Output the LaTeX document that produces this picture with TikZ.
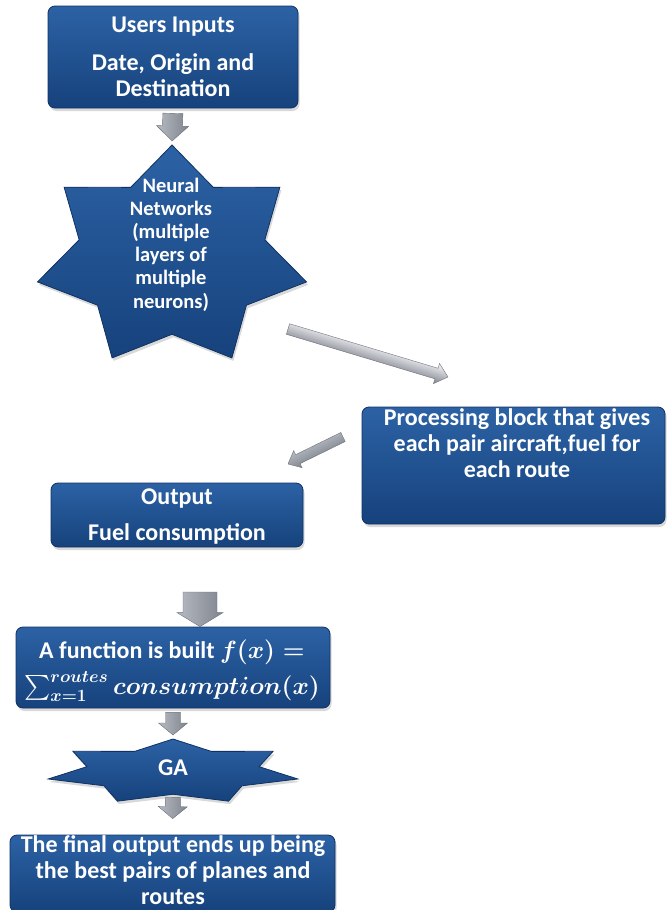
\documentclass[tikz,border=0pt]{standalone}
\usepackage{amsmath}
\usepackage{fontspec}
\setmainfont{Carlito}
\usetikzlibrary{calc,shadows}

\definecolor{boxhi}{RGB}{44,98,165}
\definecolor{boxlo}{RGB}{22,66,124}
\definecolor{boxedge}{RGB}{16,50,98}
\definecolor{arrlight}{RGB}{246,247,250}
\definecolor{arrmid}{RGB}{182,186,194}
\definecolor{arrdark}{RGB}{128,132,142}

\tikzset{
  bluebox/.style={rounded corners=7pt, top color=boxhi, bottom color=boxlo,
    draw=boxedge, line width=0.8pt, inner sep=0pt,
    drop shadow={shadow xshift=1.5pt, shadow yshift=-3pt, opacity=0.3}},
  bluestar/.style={top color=boxhi, bottom color=boxlo, draw=boxedge,
    line width=0.8pt, line join=miter,
    drop shadow={shadow xshift=1.5pt, shadow yshift=-3pt, opacity=0.3}},
  boxtext/.style={text=white, font=\bfseries\fontsize{24}{26}\selectfont,
    align=center, inner sep=0pt},
  startext/.style={text=white, font=\bfseries\fontsize{20.5}{23.2}\selectfont,
    align=center, inner sep=0pt},
  greyarrow/.style={top color=arrdark, middle color=arrlight, bottom color=arrmid,
    draw=arrdark!85!black, line width=0.4pt, line join=miter},
  greyarrowflip/.style={top color=arrlight, middle color=arrmid, bottom color=arrdark,
    draw=arrdark!85!black, line width=0.4pt, line join=miter},
}

% block arrow from #2 to #3: shaft width #4, head width #5, head length #6, style #1;
% drawn in a rotated canvas so that the shading runs across the shaft
\newcommand\blockarrow[6][greyarrow]{%
  \path let \p1=#2, \p2=#3 in \pgfextra{%
    \pgfmathsetmacro\baang{atan2(\y2-\y1,\x2-\x1)}%
    \pgfmathsetmacro\balen{veclen(\x2-\x1,\y2-\y1)}%
    \pgfmathsetmacro\bax{\x1}%
    \pgfmathsetmacro\bay{\y1}%
    \global\let\baang\baang \global\let\balen\balen
    \global\let\bax\bax \global\let\bay\bay};
  \begin{scope}[transform canvas={shift={(\bax pt,\bay pt)}, rotate=\baang}, x=1pt, y=1pt]
    \path[#1] (0,{-#4/2}) -- ({\balen-#6},{-#4/2}) -- ({\balen-#6},{-#5/2})
      -- (\balen,0) -- ({\balen-#6},{#5/2}) -- ({\balen-#6},{#4/2})
      -- (0,{#4/2}) -- cycle;
  \end{scope}}

% seven-pointed star, centre (#2,#3), radii #4 (x) and #5 (y), inner ratio #6
\newcommand\sevenstar[6][bluestar]{%
  \path[#1] plot[samples at={0,...,13}]
    ({#2+(1-(1-#6)*mod(\x,2))*#4*cos(90+\x*360/14)},
     {#3-(1-(1-#6)*mod(\x,2))*#5*sin(90+\x*360/14)}) -- cycle;}

\begin{document}
\begin{tikzpicture}[x=1pt, y=-1pt]
\useasboundingbox (0,0) rectangle (667,910);

% boxes
\node[bluebox, minimum width=250pt, minimum height=102pt] (inputs) at (173,57) {};
\node[boxtext, anchor=north] (inputs-text) at (173,16.5)
  {Users Inputs\\[12pt]Date, Origin and\\Destination};

% neural network star
\sevenstar{172}{257}{138}{112}{0.69}
\coordinate (nn-top) at (172,145);
\node[startext, anchor=north] (nn-text) at (171,177.5)
  {Neural\\Networks\\(multiple\\layers of\\multiple\\neurons)};

\node[bluebox, minimum width=303pt, minimum height=117pt] (proc) at (513.5,465.5) {};
\node[boxtext, anchor=north] (proc-text) at (517,408)
  {Processing block that gives\\each pair aircraft,fuel for\\each route};

\node[bluebox, minimum width=252pt, minimum height=64pt] (output) at (177,515) {};
\node[boxtext, anchor=north] (output-text) at (177,488.5)
  {Output\\[10pt]Fuel consumption};

\node[bluebox, minimum width=314pt, minimum height=81pt] (func) at (173,667.5) {};
\node[boxtext, anchor=north] (func-text) at (172,640)
  {A function is built {\boldmath$f(x)=$}\\[5pt]
   {\boldmath$\sum_{x=1}^{routes}consumption(x)$}};

% genetic algorithm star
\sevenstar{173}{771.7}{128}{32.7}{0.69}
\coordinate (ga-top) at (173,739);
\coordinate (ga-notch) at (173,794.3);
\node[boxtext, anchor=base] (ga-text) at (173,775) {GA};

\node[bluebox, minimum width=325pt, minimum height=77pt] (final) at (172.5,873.5) {};
\node[boxtext, anchor=north] (final-text) at (173,835.2)
  {The final output ends up being\\the best pairs of planes and\\routes};

% connectors
\coordinate (nn-out) at (288,329);
\coordinate (proc-in) at (448,377);
\coordinate (proc-out) at (343,437);
\coordinate (output-in) at (288,464);
\coordinate (output-down) at (200,592);

\blockarrow{($(inputs.south)!5pt!(nn-top)$)}{($(nn-top)!4pt!(inputs.south)$)}{20}{32}{15}
\blockarrow[greyarrowflip]{(nn-out)}{(proc-in)}{11}{21}{12}
\blockarrow{(proc-out)}{(output-in)}{10}{19}{11}
\blockarrow{(output-down)}{(func.north -| output-down)}{34}{46}{14}
\blockarrow{($(func.south)!4pt!(ga-top)$)}{($(ga-top)!4pt!(func.south)$)}{15}{29}{12}
\blockarrow{($(ga-notch)!3pt!(final.north)$)}{($(final.north)!16pt!(ga-notch)$)}{15}{29}{12}
\end{tikzpicture}
\end{document}
